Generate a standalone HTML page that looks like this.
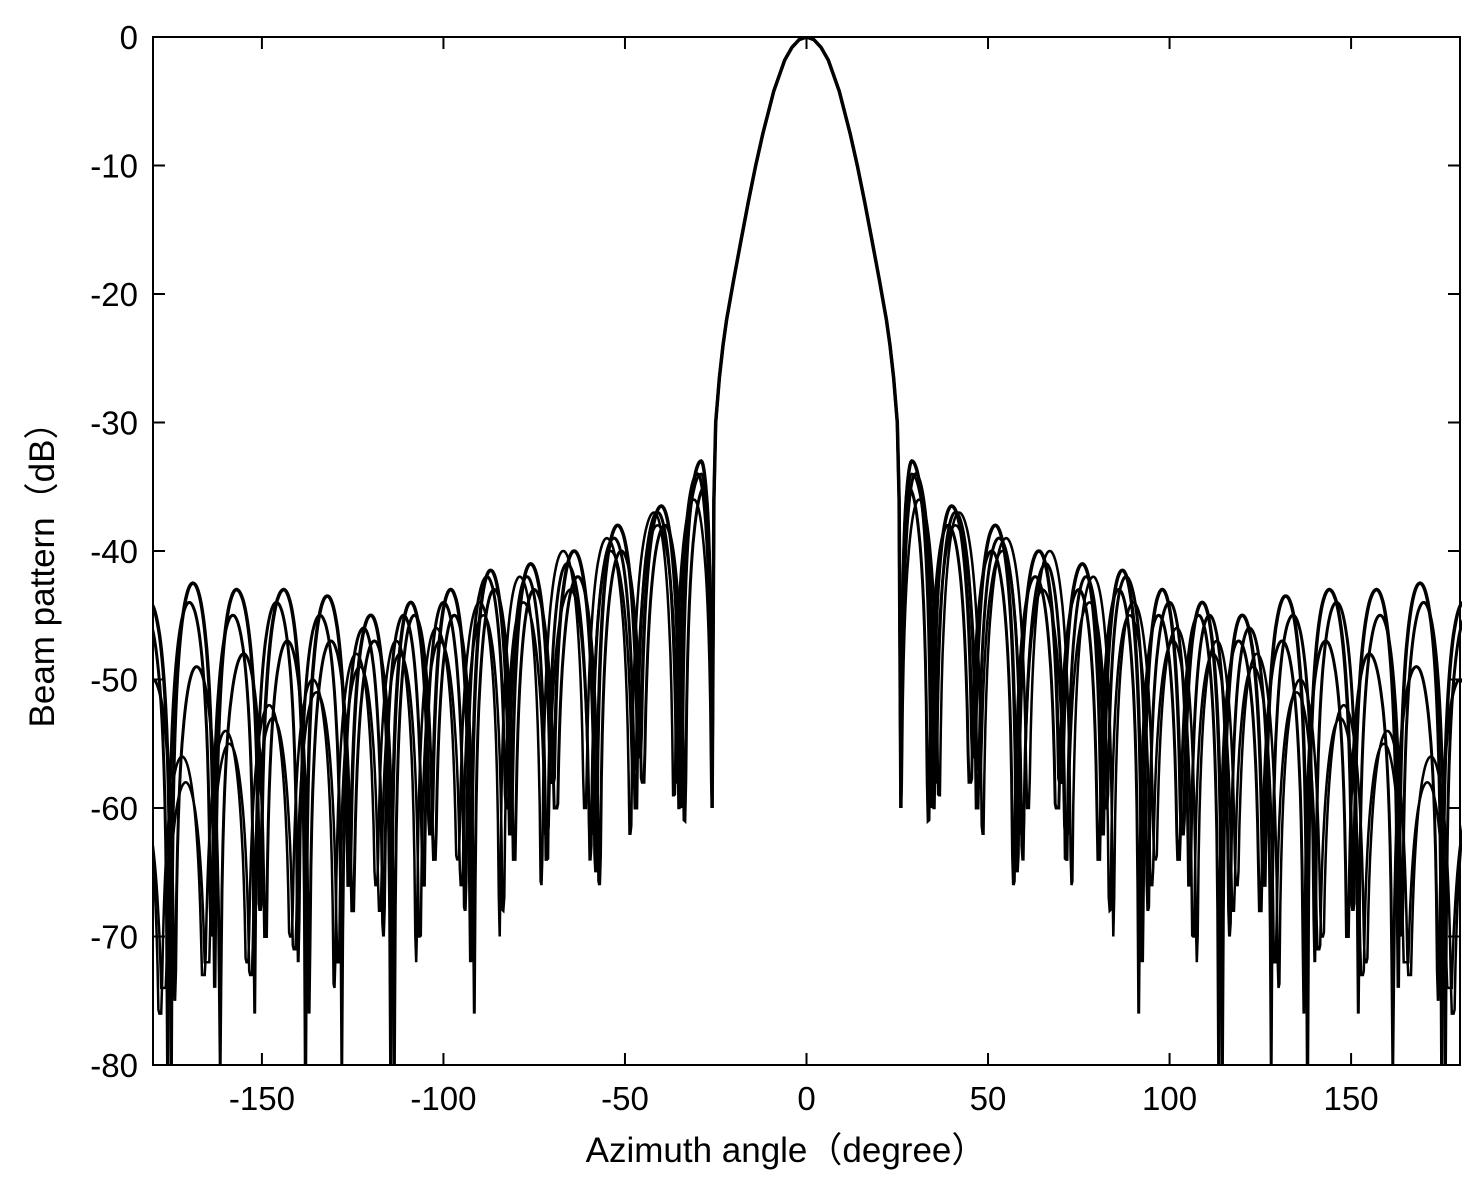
<!DOCTYPE html>
<html><head><meta charset="utf-8"><style>
body{margin:0;background:#fff}
svg text{font-family:"Liberation Sans","Noto Sans CJK SC",sans-serif;fill:#000}
</style></head><body>
<svg id="chart" width="1476" height="1187" viewBox="0 0 1476 1187" xmlns="http://www.w3.org/2000/svg">
<defs><clipPath id="plotclip"><rect x="153" y="37" width="1309" height="1028"/></clipPath></defs>
<rect x="0" y="0" width="1476" height="1187" fill="#fff"/>
<g id="series" clip-path="url(#plotclip)"></g>
<g id="axes"></g>
</svg>
<script>
const xTicks=[-150,-100,-50,0,50,100,150];
const yTicks=[0,-10,-20,-30,-40,-50,-60,-70,-80];
const mainAngles=[0,2,4,6,9,12,14,16,18,20,22,23,24,25,25.5,26];
const mainDb=[0,-0.2,-0.8,-1.8,-4.2,-7.5,-10,-12.8,-15.8,-18.8,-22,-24,-26.5,-30,-36,-60];
const firstNull=26;
const peakAngA=[29,40,52,64,76,87,98,109,120,132,144,157,169,181];
const peakDbA=[-33,-36.5,-38,-40,-41,-41.5,-43,-44,-45,-43.5,-43,-43,-42.5,-44];
const nullDbA=[-60,-56,-65,-58,-62,-72,-62,-80,-66,-80,-68,-74,-80,-80];
const peakAngB=[30,41,53,66,77,88,100,111,122,134,146,158,170,182];
const peakDbB=[-34,-37,-39,-41,-42,-42,-44,-45,-46,-45,-44,-45,-44,-45];
const nullDbB=[-58,-60,-62,-64,-60,-68,-66,-70,-80,-72,-76,-70,-80,-80];
const peakAngC=[28,39,51,63,75,86,97,108,119,131,143,155,168,180];
const peakDbC=[-35,-38,-40,-42,-43,-43,-45,-45,-47,-47,-47,-48,-49,-50];
const nullDbC=[-61,-58,-66,-60,-64,-76,-64,-80,-68,-76,-70,-80,-75,-80];
const peakAngD=[31,42,55,67,79,90,102,113,124,136,148,160,172,184];
const peakDbD=[-36,-37,-39,-40,-42,-44,-46,-47,-48,-50,-52,-54,-56,-58];
const nullDbD=[-59,-62,-60,-66,-70,-64,-72,-66,-74,-70,-72,-73,-76,-80];
const peakAngE=[29,41,54,65,78,89,101,112,123,135,147,159,171,183];
const peakDbE=[-34,-38,-40,-43,-44,-45,-47,-48,-49,-51,-53,-55,-58,-60];
const nullDbE=[-60,-57,-64,-62,-68,-66,-70,-68,-72,-71,-73,-72,-74,-80];

const X0=153,X1=1460,Y0=37,Y1=1065;
const xs=a=>X0+(a+180)/360*(X1-X0);
const ys=d=>Y0+(-d)/80*(Y1-Y0);
const NS="http://www.w3.org/2000/svg";
const sg=document.getElementById('series'),ag=document.getElementById('axes');

function sidePts(pa,pd,nd){
  const pts=[];let left=firstNull;
  for(let i=0;i<pa.length;i++){
    const right=i<pa.length-1?(pa[i]+pa[i+1])/2:pa[i]+(pa[i]-left);
    const ln=i===0?-60:nd[i-1], rn=nd[i];
    for(let a=left;a<=right+1e-9;a+=0.25){
      const h=a<pa[i]?pa[i]-left:right-pa[i];
      const u=Math.min(0.999,Math.abs(a-pa[i])/h);
      let v=pd[i]+20*Math.log10(Math.cos(u*Math.PI/2));
      const nn=a<pa[i]?ln:rn; v=Math.max(v,nn);
      pts.push([a,Math.max(v,-85)]);
    }
    left=right;
  }
  return pts;
}
function draw(pa,pd,nd,name,w){
  const side=sidePts(pa,pd,nd);
  let d="";
  const left=side.slice().reverse().map(p=>[-p[0],p[1]]);
  const main=[];
  for(let i=mainAngles.length-1;i>=0;i--)main.push([-mainAngles[i],mainDb[i]]);
  for(let i=1;i<mainAngles.length;i++)main.push([mainAngles[i],mainDb[i]]);
  const all=left.concat(main,side);
  all.forEach((p,i)=>{d+=(i?"L":"M")+xs(p[0]).toFixed(1)+","+ys(p[1]).toFixed(1)});
  const path=document.createElementNS(NS,'path');
  path.setAttribute('d',d);path.setAttribute('fill','none');path.setAttribute('stroke','#000');path.setAttribute('stroke-width',w);
  
  
  sg.appendChild(path);
}
draw(peakAngA,peakDbA,nullDbA,'series-a',3.5);
draw(peakAngB,peakDbB,nullDbB,'series-b',3);
draw(peakAngC,peakDbC,nullDbC,'series-c',3);
draw(peakAngD,peakDbD,nullDbD,'series-d',2.5);
draw(peakAngE,peakDbE,nullDbE,'series-e',2.5);

function el(t,attrs,txt){const e=document.createElementNS(NS,t);for(const k in attrs)e.setAttribute(k,attrs[k]);if(txt!==undefined)e.textContent=txt;ag.appendChild(e);return e;}
const box=el('rect',{x:X0,y:Y0,width:X1-X0,height:Y1-Y0,fill:'none',stroke:'#000','stroke-width':2});


xTicks.forEach(t=>{
  const x=xs(t);
  el('line',{x1:x,y1:Y1,x2:x,y2:Y1-12,stroke:'#000','stroke-width':2});
  el('line',{x1:x,y1:Y0,x2:x,y2:Y0+12,stroke:'#000','stroke-width':2});
  const tx=el('text',{x:x,y:Y1+45,'font-size':33,'text-anchor':'middle'},String(t));
  
  
});
yTicks.forEach(t=>{
  const y=ys(t);
  el('line',{x1:X0,y1:y,x2:X0+12,y2:y,stroke:'#000','stroke-width':2});
  el('line',{x1:X1,y1:y,x2:X1-12,y2:y,stroke:'#000','stroke-width':2});
  const tx=el('text',{x:138,y:y+12,'font-size':33,'text-anchor':'end'},String(t));
  
  
});
const xt=el('text',{x:786,y:1162,'font-size':35,'text-anchor':'middle'},'Azimuth angle（degree）');


const yt=el('text',{x:0,y:0,'font-size':35,'text-anchor':'middle',transform:'translate(54,566) rotate(-90)'},'Beam pattern（dB）');


</script>
</body></html>
